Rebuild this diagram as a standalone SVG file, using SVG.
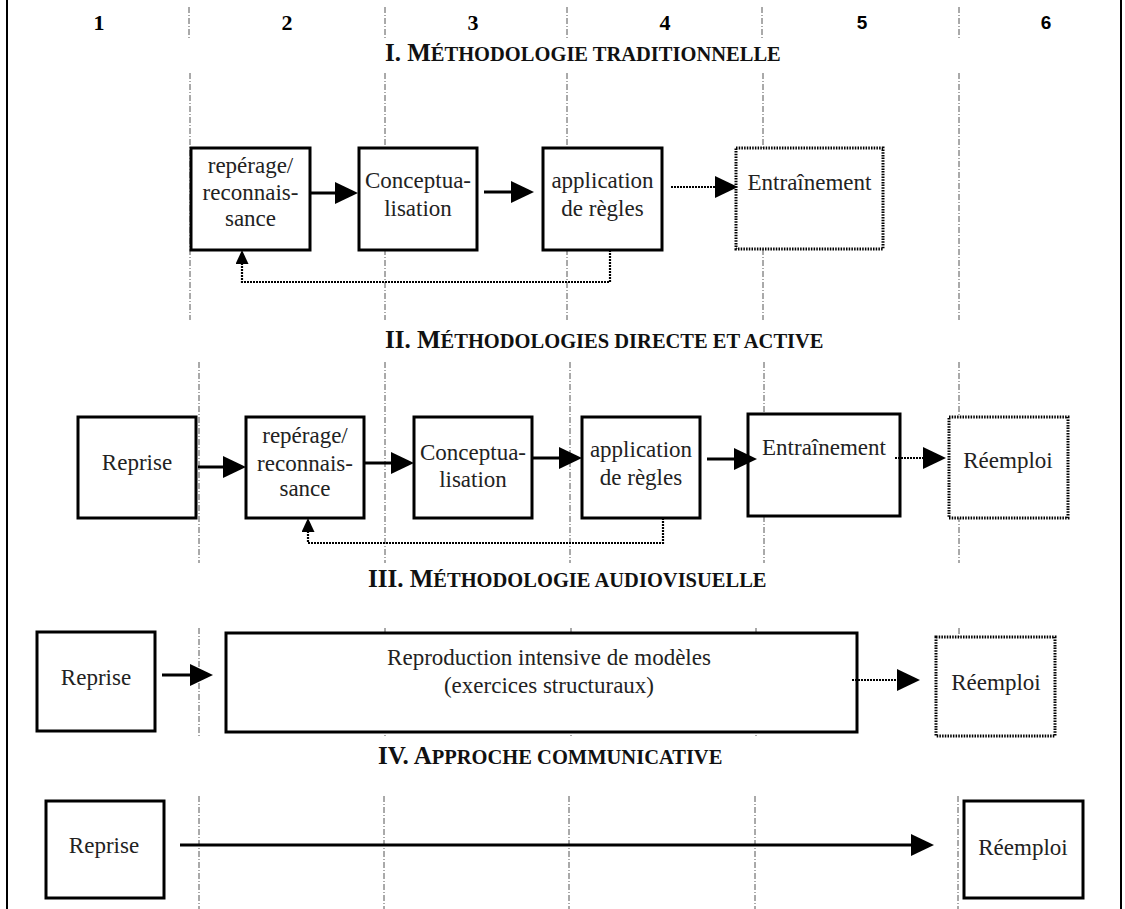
<svg xmlns="http://www.w3.org/2000/svg" width="1125" height="909" viewBox="0 0 1125 909">
<style>
.bg{fill:#fff}
.box{fill:#fff;stroke:#000;stroke-width:3}
.dbox{fill:#fff;stroke:#000;stroke-width:3;stroke-dasharray:1.5 1.2}
.sep{stroke:#555;stroke-width:1;stroke-dasharray:6 2 1 2;fill:none}
.border{stroke:#000;stroke-width:2}
.t{font-family:"Liberation Serif","Times New Roman",serif;font-size:23px;fill:#222;text-anchor:middle}
.num{font-family:"Liberation Serif","Times New Roman",serif;font-size:22px;font-weight:bold;fill:#000;text-anchor:middle}
.numa{font-family:"Liberation Sans",Arial,sans-serif;font-size:19px;font-weight:bold;fill:#000;text-anchor:middle}
.ti{font-family:"Liberation Serif","Times New Roman",serif;font-weight:bold;fill:#111}
.big{font-size:25px}
.sm{font-size:20.5px}
.ln{stroke:#000;stroke-width:3;fill:none}
.dl{stroke:#000;stroke-width:2.2;stroke-dasharray:2 1;fill:none}
</style>
<defs>
<marker id="ah" markerUnits="userSpaceOnUse" viewBox="0 0 23 22" markerWidth="23" markerHeight="22" refX="5" refY="11" orient="auto"><path d="M0,0 L23,11 L0,22 z" fill="#000"/></marker>
<marker id="ahs" markerUnits="userSpaceOnUse" viewBox="0 0 14 13" markerWidth="14" markerHeight="13" refX="3" refY="6.5" orient="auto"><path d="M0,0 L14,6.5 L0,13 z" fill="#000"/></marker>
</defs>
<rect class="bg" x="0" y="0" width="1125" height="909"/>
<g id="frame">
<line class="border" x1="7" y1="0" x2="7" y2="909"/>
<line class="border" x1="1121" y1="0" x2="1121" y2="909"/>
</g>
<g id="separators">
<path class="sep" d="M189,7V38M385,7V38M567,7V38M762,7V38M959,7V38"/>
<path class="sep" d="M190,73V320M385,73V320M567,73V320M763,73V320M959,73V320"/>
<path class="sep" d="M199,362V563M385,362V563M570,362V563M764,362V563M959,362V563"/>
<path class="sep" d="M199,628V737M385,628V737M571,628V737M756,628V737M959,628V737"/>
<path class="sep" d="M199,796V909M384,796V909M569,796V909M755,796V909M958,796V909"/>
</g>
<g id="header">
<text class="num" x="99" y="30">1</text>
<text class="num" x="287" y="30">2</text>
<text class="num" x="473" y="30">3</text>
<text class="num" x="665" y="30">4</text>
<text class="numa" x="862" y="29">5</text>
<text class="numa" x="1046" y="29">6</text>
</g>
<g id="titles">
<text class="ti" x="385" y="61"><tspan class="big">I. M</tspan><tspan class="sm">ÉTHODOLOGIE TRADITIONNELLE</tspan></text>
<text class="ti" x="385" y="348"><tspan class="big">II. M</tspan><tspan class="sm">ÉTHODOLOGIES DIRECTE ET ACTIVE</tspan></text>
<text class="ti" x="368" y="587"><tspan class="big">III. M</tspan><tspan class="sm">ÉTHODOLOGIE AUDIOVISUELLE</tspan></text>
<text class="ti" x="378" y="764"><tspan class="big">IV. A</tspan><tspan class="sm">PPROCHE COMMUNICATIVE</tspan></text>
</g>
<g id="n1-reperage"><rect class="box" x="191" y="148" width="119" height="102"/><text class="t" x="250.5" y="173">repérage/</text><text class="t" x="250.5" y="200">reconnais-</text><text class="t" x="250.5" y="226">sance</text></g>
<g id="n1-conceptualisation"><rect class="box" x="359" y="148" width="118" height="102"/><text class="t" x="418" y="188">Conceptua-</text><text class="t" x="418" y="216">lisation</text></g>
<g id="n1-application"><rect class="box" x="543" y="148" width="119" height="102"/><text class="t" x="602.5" y="188">application</text><text class="t" x="602.5" y="216">de règles</text></g>
<g id="n1-entrainement"><rect class="dbox" x="736" y="148" width="147" height="101"/><text class="t" x="809.5" y="190">Entraînement</text></g>
<g id="n2-reprise"><rect class="box" x="78" y="417" width="118" height="101"/><text class="t" x="137" y="470">Reprise</text></g>
<g id="n2-reperage"><rect class="box" x="246" y="417" width="118" height="101"/><text class="t" x="305" y="443">repérage/</text><text class="t" x="305" y="471">reconnais-</text><text class="t" x="305" y="496">sance</text></g>
<g id="n2-conceptualisation"><rect class="box" x="414" y="417" width="118" height="101"/><text class="t" x="473" y="460">Conceptua-</text><text class="t" x="473" y="487">lisation</text></g>
<g id="n2-application"><rect class="box" x="582" y="417" width="118" height="101"/><text class="t" x="641" y="457">application</text><text class="t" x="641" y="485">de règles</text></g>
<g id="n2-entrainement"><rect class="box" x="748" y="414" width="152" height="102"/><text class="t" x="824" y="455">Entraînement</text></g>
<g id="n2-reemploi"><rect class="dbox" x="949" y="417" width="119" height="101"/><text class="t" x="1008" y="468">Réemploi</text></g>
<g id="n3-reprise"><rect class="box" x="37" y="632" width="118" height="99"/><text class="t" x="96" y="685">Reprise</text></g>
<g id="n3-reproduction"><rect class="box" x="226" y="633" width="631" height="99"/><text class="t" x="549" y="665">Reproduction intensive de modèles</text><text class="t" x="549" y="693">(exercices structuraux)</text></g>
<g id="n3-reemploi"><rect class="dbox" x="936" y="637" width="119" height="99"/><text class="t" x="996" y="690">Réemploi</text></g>
<g id="n4-reprise"><rect class="box" x="46" y="801" width="118" height="97"/><text class="t" x="104" y="853">Reprise</text></g>
<g id="n4-reemploi"><rect class="box" x="964" y="801" width="119" height="97"/><text class="t" x="1023" y="855">Réemploi</text></g>
<g id="connectors">
<path class="ln" d="M310,193H340" marker-end="url(#ah)"/>
<path class="ln" d="M484,192H516" marker-end="url(#ah)"/>
<path class="dl" d="M671,187H720" marker-end="url(#ah)"/>
<path class="dl" d="M610,250V282H242V261" marker-end="url(#ahs)"/>
<path class="ln" d="M198,467H228" marker-end="url(#ah)"/>
<path class="ln" d="M364,463H396" marker-end="url(#ah)"/>
<path class="ln" d="M532,458H564" marker-end="url(#ah)"/>
<path class="ln" d="M707,459H739" marker-end="url(#ah)"/>
<path class="dl" d="M895,458H928" marker-end="url(#ah)"/>
<path class="dl" d="M663,518V543H308V529" marker-end="url(#ahs)"/>
<path class="ln" d="M162,675H195" marker-end="url(#ah)"/>
<path class="dl" d="M852,680H902" marker-end="url(#ah)"/>
<path class="ln" d="M180,845H916" marker-end="url(#ah)"/>
</g>
</svg>
